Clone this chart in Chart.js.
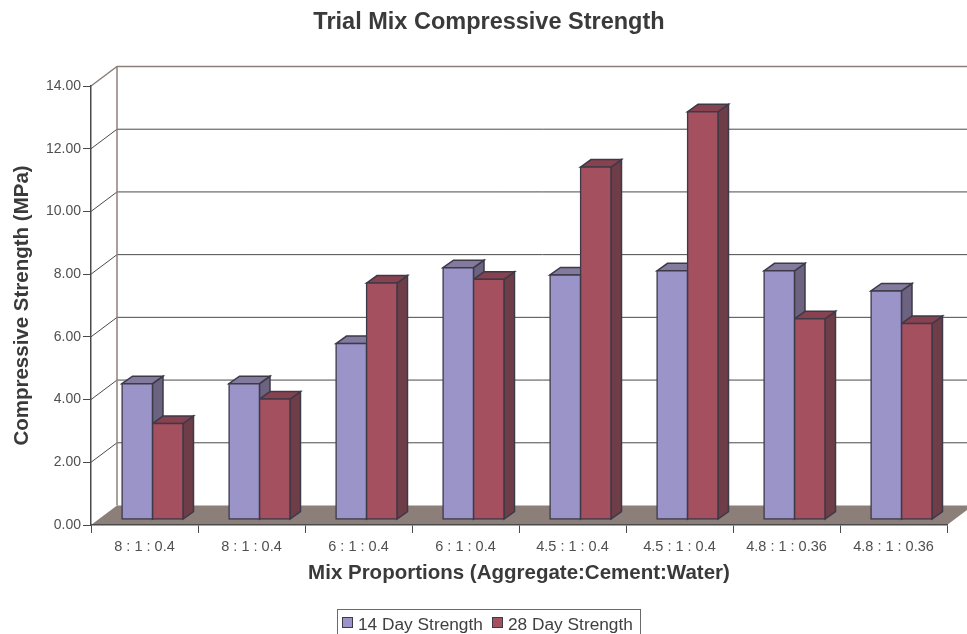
<!DOCTYPE html>
<html>
<head>
<meta charset="utf-8">
<title>Trial Mix Compressive Strength</title>
<script src="https://cdn.jsdelivr.net/npm/chart.js@4"></script>
<style>
  html, body { margin: 0; padding: 0; background: #fff; overflow: hidden; width: 967px; height: 634px; }
  canvas { position: absolute; left: 0; top: 0; }
  #legend {
    position: absolute; left: 337px; top: 609px; width: 302px; height: 40px;
    border: 1px solid #6a6a6a; box-sizing: content-box;
    font: 17.3px "Liberation Sans", Arial, sans-serif; color: #404040;
  }
  #legend span { position: absolute; top: 4px; white-space: nowrap; }
  #legend i { position: absolute; top: 7px; width: 9px; height: 9px; border: 1.5px solid #3d3a48; }
</style>
</head>
<body>
<canvas id="chart" width="967" height="634"></canvas>
<div id="legend"></div>
<script>
const categories = ["8 : 1 : 0.4", "8 : 1 : 0.4", "6 : 1 : 0.4", "6 : 1 : 0.4", "4.5 : 1 : 0.4", "4.5 : 1 : 0.4", "4.8 : 1 : 0.36", "4.8 : 1 : 0.36"];
const day14 = [4.33, 4.33, 5.61, 8.03, 7.8, 7.93, 7.93, 7.29];
const day28 = [3.06, 3.84, 7.54, 7.66, 11.24, 13.0, 6.4, 6.25];

const FONT = '"Liberation Sans", Arial, sans-serif';
const TEXT = "#3a3a3a";
const LINE = "#3d3a48";
const WALL = "#8c7f7a";
const FLOOR = "#8c7e78";
const FRONT = ["#9a94c8", "#a5505f"];
const TOP = ["#837a9e", "#87414f"];
const SIDE = ["#6b6380", "#6e3d48"];

// depth of the box the chart sits in, and of one bar
const BOX_DX = 26, BOX_DY = 19.5;
const BAR_DX = 10.5, BAR_DY = 7.5;
const SHIFT_X = 8, SHIFT_Y = 5.5;

function poly(ctx, pts, fill, stroke, width) {
  ctx.beginPath();
  pts.forEach((p, i) => (i ? ctx.lineTo(p[0], p[1]) : ctx.moveTo(p[0], p[1])));
  ctx.closePath();
  if (fill) { ctx.fillStyle = fill; ctx.fill(); }
  if (stroke) { ctx.strokeStyle = stroke; ctx.lineWidth = width; ctx.stroke(); }
}

const box3d = {
  id: "box3d",
  beforeDraw(chart) {
    const { ctx, chartArea: a, scales: { y } } = chart;
    ctx.save();
    // floor
    poly(ctx, [[a.left, a.bottom], [a.left + BOX_DX, a.bottom - BOX_DY], [a.right + BOX_DX, a.bottom - BOX_DY], [a.right, a.bottom]], FLOOR);
    // gridlines run along the left wall and then the back wall
    y.ticks.forEach((t) => {
      if (t.value === 0) return;
      const py = y.getPixelForValue(t.value);
      const top = t.value === y.max;
      ctx.beginPath();
      ctx.moveTo(a.left, py);
      ctx.lineTo(a.left + BOX_DX, py - BOX_DY);
      ctx.lineTo(a.right + BOX_DX, py - BOX_DY);
      ctx.strokeStyle = top ? WALL : "#4a4a4a";
      ctx.lineWidth = top ? 1.5 : 1;
      ctx.stroke();
    });
    // back corner of the walls
    ctx.beginPath();
    ctx.moveTo(a.left + BOX_DX, a.top - BOX_DY);
    ctx.lineTo(a.left + BOX_DX, a.bottom - BOX_DY);
    ctx.strokeStyle = WALL;
    ctx.lineWidth = 1.5;
    ctx.stroke();
    ctx.restore();
  },
  beforeDatasetsDraw(chart) {
    const { ctx } = chart;
    ctx.save();
    ctx.translate(SHIFT_X, SHIFT_Y * -1);
    [0, 1].forEach((ds) => {
      chart.getDatasetMeta(ds).data.forEach((bar) => {
        const l = bar.x - bar.width / 2, r = bar.x + bar.width / 2;
        poly(ctx, [[r, bar.y], [r + BAR_DX, bar.y - BAR_DY], [r + BAR_DX, bar.base - BAR_DY], [r, bar.base]], SIDE[ds], LINE, 1.5);
        poly(ctx, [[l, bar.y], [l + BAR_DX, bar.y - BAR_DY], [r + BAR_DX, bar.y - BAR_DY], [r, bar.y]], TOP[ds], LINE, 1.5);
      });
    });
  },
  afterDatasetsDraw(chart) {
    chart.ctx.restore();
  },
};

const datasets = [
  { label: "14 Day Strength", data: day14, backgroundColor: FRONT[0] },
  { label: "28 Day Strength", data: day28, backgroundColor: FRONT[1] },
].map((d) => ({ ...d, borderColor: LINE, borderWidth: 1.5, borderSkipped: false, inflateAmount: 0.75, clip: false }));

const chart = new Chart(document.getElementById("chart"), {
  type: "bar",
  data: { labels: categories, datasets },
  plugins: [box3d],
  options: {
    responsive: false,
    animation: false,
    events: [],
    layout: { padding: { left: 31, right: 20 } },
    categoryPercentage: 0.57,
    barPercentage: 1,
    plugins: {
      legend: { display: false },
      tooltip: { enabled: false },
      title: {
        display: true,
        text: "Trial Mix Compressive Strength",
        color: TEXT,
        font: { family: FONT, size: 23.5, weight: "bold" },
        padding: { top: 8.4, bottom: 49.4 },
      },
    },
    scales: {
      x: {
        afterFit: (s) => { s.height = 109; },
        border: { color: "#4a4a4a", width: 1.5 },
        grid: { drawOnChartArea: false, color: "#4a4a4a", tickLength: 8, lineWidth: 1 },
        ticks: { color: "#505050", font: { family: FONT, size: 14.5 }, maxRotation: 0, autoSkip: false, padding: 5 },
        title: {
          display: true,
          text: "Mix Proportions (Aggregate:Cement:Water)",
          color: TEXT,
          font: { family: FONT, size: 20.5, weight: "bold" },
          padding: { top: 0, bottom: 48.7 },
        },
      },
      y: {
        min: 0,
        max: 14,
        afterFit: (s) => { s.width = 60; },
        border: { color: "#4a4a4a", width: 1.5 },
        grid: { drawOnChartArea: false, color: "#4a4a4a", tickLength: 8, lineWidth: 1 },
        ticks: {
          stepSize: 2,
          color: "#505050",
          font: { family: FONT, size: 14 },
          padding: 2,
          callback: (v) => v.toFixed(2),
        },
        title: {
          display: true,
          text: "Compressive Strength (MPa)",
          color: TEXT,
          font: { family: FONT, size: 20.5, weight: "bold" },
          padding: { top: -21, bottom: 0 },
        },
      },
    },
  },
});

// legend sits in its own frame, cut off by the bottom of the page as in the source
const legendEl = document.getElementById("legend");
[[4, 20], [154, 170]].forEach(([boxX, textX], i) => {
  const swatch = document.createElement("i");
  swatch.style.left = boxX + "px";
  swatch.style.background = datasets[i].backgroundColor;
  const label = document.createElement("span");
  label.style.left = textX + "px";
  label.textContent = datasets[i].label;
  legendEl.append(swatch, label);
});
</script>
</body>
</html>
